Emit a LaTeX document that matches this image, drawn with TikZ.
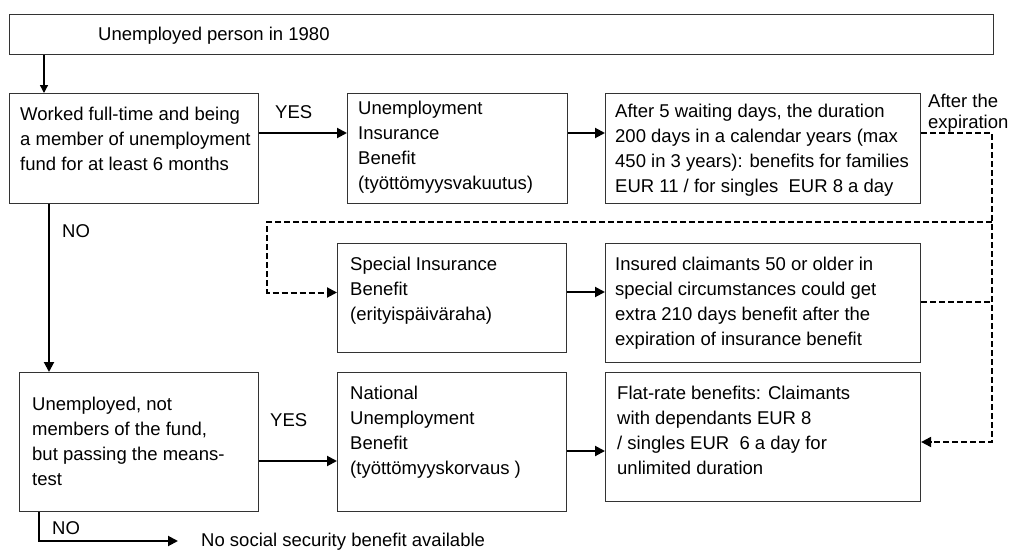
\documentclass[tikz,border=0pt]{standalone}
\usepackage{fontspec}
\setmainfont{Liberation Sans}
\usetikzlibrary{arrows.meta}
\newcommand{\fbody}{\fontsize{18.5}{25}\selectfont}
\newcommand{\ftight}{\fontsize{18.5}{21}\selectfont}
\begin{document}
\begin{tikzpicture}[x=1pt,y=-1pt,
  box/.style={draw=black!80, line width=1.1pt, anchor=north west, inner sep=0pt},
  txt/.style={anchor=north west, inner sep=0pt, align=left, font=\fbody},
  arr/.style={line width=2pt, -{Triangle[length=10pt,width=10pt]}},
  thinarr/.style={line width=1.3pt, -{Triangle[length=8pt,width=8pt]}},
  dashline/.style={line width=2pt, dash pattern=on 6pt off 3pt},
  dasharr/.style={dashline, -{Triangle[length=10pt,width=10pt]}}]
\useasboundingbox (0,0) rectangle (1009,549);

% boxes
\node[box, minimum width=984pt, minimum height=40pt]  (top) at (9,14)   {};
\node[box, minimum width=249pt, minimum height=110pt] (A)   at (9,93)   {};
\node[box, minimum width=220pt, minimum height=110pt] (B)   at (347,93) {};
\node[box, minimum width=315pt, minimum height=110pt] (C)   at (605,93) {};
\node[box, minimum width=229pt, minimum height=109pt] (D)   at (337,243) {};
\node[box, minimum width=315pt, minimum height=119pt] (E)   at (605,243) {};
\node[box, minimum width=239pt, minimum height=139pt] (G)   at (19,372) {};
\node[box, minimum width=229pt, minimum height=139pt] (H)   at (337,372) {};
\node[box, minimum width=315pt, minimum height=129pt] (F)   at (605,372) {};

% texts
\node[txt] (ttop) at (98,22.5) {\strut Unemployed person in 1980};
\node[txt] (tA) at (20,102.5) {\strut Worked full-time and being\\a member of unemployment\\fund for at least 6 months};
\node[txt] (yes1) at (275,100.5) {\strut YES};
\node[txt] (tB) at (358,97) {\strut Unemployment\\Insurance\\Benefit\\(työttömyysvakuutus)};
\node[txt] (tC) at (615,99.5) {\strut After 5 waiting days, the duration\\200 days in a calendar years (max\\450 in 3 years): benefits for families\\EUR 11 / for singles\ \ EUR 8 a day};
\node[txt, font=\ftight] (after) at (928,92.3) {\strut After the\\expiration};
\node[txt] (no1) at (62,219.5) {\strut NO};
\node[txt] (tD) at (350,252.5) {\strut Special Insurance\\Benefit\\(erityispäiväraha)};
\node[txt] (tE) at (615,252.5) {\strut Insured claimants 50 or older in\\special circumstances could get\\extra 210 days benefit after the\\expiration of insurance benefit};
\node[txt] (tG) at (32,392.5) {\strut Unemployed, not\\members of the fund,\\but passing the means-\\test};
\node[txt] (yes2) at (270,408.5) {\strut YES};
\node[txt] (tH) at (350,381.5) {\strut National\\Unemployment\\Benefit\\(työttömyyskorvaus )};
\node[txt] (tF) at (617,381.5) {\strut Flat-rate benefits: Claimants\\with dependants EUR 8\\/ singles EUR\ \ 6 a day for\\unlimited duration};
\node[txt] (no2) at (52,516.5) {\strut NO};
\node[txt] (nobenefit) at (201,529.2) {\strut No social security benefit available};

% junction points of the dashed connectors
\coordinate (jC) at (992,133);
\coordinate (jMid) at (992,222);
\coordinate (jE) at (992,302);
\coordinate (jF) at (992,442);
\coordinate (jL) at (267,222);
\coordinate (noEnd) at (178,541);

% solid connectors
\draw[thinarr] (top.south -| 44,0) -- (A.north -| 44,0);
\draw[arr] (A.east |- 0,133) -- (B.west |- 0,133);
\draw[arr] (B.east |- 0,133) -- (C.west |- 0,133);
\draw[arr] (A.south -| 49,0) -- (G.north -| 49,0);
\draw[arr] (D.east |- 0,292) -- (E.west |- 0,292);
\draw[arr] (G.east |- 0,461) -- (H.west |- 0,461);
\draw[arr] (H.east |- 0,451) -- (F.west |- 0,451);
\draw[arr] (G.south -| 39,0) |- (noEnd);

% dashed connectors
\draw[dasharr] (C.east |- jC) -- (jC) -- (jF) -- (F.east |- jF);
\draw[dasharr] (jMid) -- (jL) |- (D.west |- 0,292.5);
\draw[dashline] (E.east |- jE) -- (jE);
\end{tikzpicture}
\end{document}
